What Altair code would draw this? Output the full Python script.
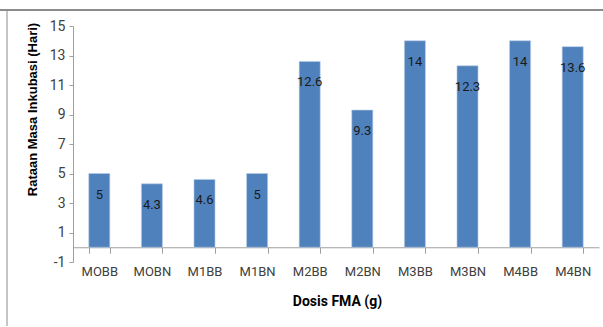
import altair as alt
import pandas as pd

categories = ["MOBB", "MOBN", "M1BB", "M1BN", "M2BB", "M2BN", "M3BB", "M3BN", "M4BB", "M4BN"]
values = [5, 4.3, 4.6, 5, 12.6, 9.3, 14, 12.3, 14, 13.6]
y_ticks = [-1, 1, 3, 5, 7, 9, 11, 13, 15]

df = pd.DataFrame({"cat": categories, "val": values})

NARROW = "Liberation Sans Narrow, Roboto, sans-serif"
W, H = 526, 236
PX_PER_UNIT = H / 16.0

x_enc = alt.X(
    "cat:N",
    sort=categories,
    scale=alt.Scale(paddingInner=0.6, paddingOuter=0.3),
    axis=alt.Axis(
        title="Dosis FMA (g)",
        offset=-PX_PER_UNIT,
        labelAngle=0,
        labelFont=NARROW,
        labelFontSize=13,
        labelColor="#404040",
        labelPadding=12,
        tickBand="extent",
        tickSize=6,
        tickColor="#a0a0a0",
        domainColor="#a0a0a0",
        titleFont=NARROW,
        titleFontSize=14,
        titleFontWeight="bold",
        titleColor="#000000",
        titleX=264,
        titleY=54,
        titleBaseline="middle",
        titleAlign="center",
    ),
)

y_enc = alt.Y(
    "val:Q",
    scale=alt.Scale(domain=[-1, 15], nice=False, zero=False),
    axis=alt.Axis(
        title="Rataan Masa Inkubasi (Hari)",
        values=y_ticks,
        labelExpr="'' + datum.value",
        labelOverlap=False,
        labelBound=False,
        labelFlush=False,
        grid=False,
        labelFont=NARROW,
        labelFontSize=14,
        labelColor="#404040",
        labelPadding=4,
        tickSize=4,
        tickColor="#a0a0a0",
        domainColor="#a0a0a0",
        titleFont="Liberation Sans, Arial, sans-serif",
        titleFontSize=13,
        titleFontWeight="bold",
        titleColor="#000000",
        titleAngle=-90,
        titleX=-41,
        titleY=83,
        titleAlign="center",
        titleBaseline="middle",
    ),
)

base = alt.Chart(df).encode(x=x_enc, y=y_enc)

bars = base.mark_bar(color="#4f81bd", stroke="#b9cde5", strokeWidth=0.6).encode(
    y2=alt.datum(0),
)

labels = base.mark_text(
    font=NARROW, fontSize=13, color="#1a1a1a", baseline="middle", dy=21
).encode(
    text=alt.Text("val:Q"),
)

frame_data = alt.Data(values=[{"k": 1}])
top_line = alt.Chart(frame_data).mark_rule(color="#8c8c8c", strokeWidth=2).encode(
    x=alt.value(-73), x2=alt.value(603 - 73), y=alt.value(-16)
)
left_line = alt.Chart(frame_data).mark_rule(color="#8c8c8c", strokeWidth=1).encode(
    x=alt.value(-66), y=alt.value(-16), y2=alt.value(300)
)

chart = (
    alt.layer(bars, labels, top_line, left_line)
    .properties(
        width=W,
        height=H,
        autosize=alt.AutoSizeParams(type="none"),
        padding={"left": 73, "top": 26, "right": 4, "bottom": 65},
        background="white",
    )
    .configure_axis(labelOverlap=False)
    .configure_view(stroke=None)
)

chart.save("out.html", embed_options={"renderer": "svg", "actions": False})
